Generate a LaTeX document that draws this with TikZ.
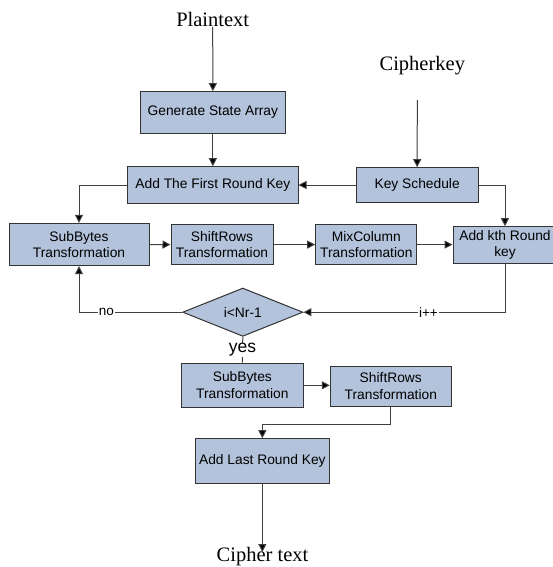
\documentclass[tikz,border=0pt]{standalone}
\usepackage{fontspec}
\setmainfont{Liberation Serif}
\setsansfont{Liberation Sans}
\usetikzlibrary{arrows.meta,shapes.geometric,calc}
\definecolor{boxfill}{HTML}{B3C3DB}
\definecolor{boxline}{HTML}{333333}
\definecolor{conn}{HTML}{404040}
\tikzset{
  procbox/.style={draw=boxline, fill=boxfill, line width=1pt, rectangle, align=center,
    inner sep=1pt, font=\sffamily\fontsize{13.8}{16.8}\selectfont},
  decbox/.style={draw=boxline, fill=boxfill, line width=1pt, diamond, aspect=2.5,
    inner sep=0pt, minimum width=120.3pt, minimum height=48.3pt,
    font=\sffamily\fontsize{13.8}{16.5}\selectfont},
  bigtext/.style={font=\rmfamily\fontsize{20.5}{24}\selectfont, inner sep=0pt},
  arr/.style={draw=conn, line width=1pt, -{Triangle[length=8pt,width=8pt,fill=black]}},
  conline/.style={draw=conn, line width=1pt},
  lab/.style={fill=white, inner sep=1pt, font=\sffamily\fontsize{13.5}{16}\selectfont},
}
\begin{document}
\begin{tikzpicture}[x=1pt,y=-1pt]
\useasboundingbox (0,0) rectangle (553,567);
% labels
\node[bigtext] (ptxt) at (212.7,19) {Plaintext};
\node[bigtext] (ckey) at (422.3,66) {Cipherkey};
\node[bigtext] (ctext) at (262.5,557) {Cipher text};
\coordinate (ckstart) at (417.3,100);
\coordinate (ptstart) at (212.7,27);
\coordinate (ctip) at (262.35,552);
% boxes
\node[procbox, minimum width=145.7pt, minimum height=41.6pt] (gen) at (212.85,112.5) {Generate State Array};
\node[procbox, minimum width=170.3pt, minimum height=36.6pt] (add1) at (212.85,185) {Add The First Round Key};
\node[procbox, minimum width=121.7pt, minimum height=34.6pt] (ks) at (417.15,185) {Key Schedule};
\node[procbox, minimum width=140pt, minimum height=42.4pt] (sb) at (79,244.5) {SubBytes\\Transformation};
\node[procbox, minimum width=102pt, minimum height=40.7pt] (sr) at (222,244.6) {ShiftRows\\Transformation};
\node[procbox, minimum width=101.3pt, minimum height=40.7pt] (mc) at (366.3,244.6) {MixColumn\\Transformation};
\node[procbox, minimum width=104pt, minimum height=36.6pt] (ak) at (505,245) {Add kth Round\\key};
\node[decbox] (dec) at (242.8,312.2) {i<Nr-1};
\node[procbox, minimum width=121.3pt, minimum height=44.7pt] (sb2) at (242.35,385.35) {SubBytes\\Transformation};
\node[procbox, minimum width=121pt, minimum height=40pt] (sr2) at (390.8,386) {ShiftRows\\Transformation};
\node[procbox, minimum width=134.7pt, minimum height=45pt] (al) at (262.35,461.2) {Add Last Round Key};
% connectors
\draw[arr] (ptstart) -- (gen.north);
\draw[arr] (ckstart) -- (ks.north);
\draw[arr] (gen.south) -- (add1.north);
\draw[arr] (ks.west) -- (add1.east);
\draw[arr] (add1.west) -| (sb.north);
\draw[arr] (ks.east) -| (ak.north);
\draw[arr] (sb.east) -- (sr.west);
\draw[arr] (sr.east) -- (mc.west);
\draw[arr] (mc.east) -- (ak.west |- mc.east);
\draw[arr] (ak.south) |- node[lab, pos=0.69] {i++} (dec.east);
\draw[arr] (dec.west) -| node[lab, pos=0.367] {no} (sb.south);
\draw[conline] (dec.south) -- node[lab, font=\sffamily\fontsize{17.5}{20}\selectfont, inner sep=0.5pt] {yes} (sb2.north);
\draw[arr] (sb2.east |- 0,385.3) -- (sr2.west |- 0,385.3);
\draw[arr] (sr2.south) -- ++(0,17.7) -| (al.north);
\draw[arr] (al.south) -- (ctip);
\end{tikzpicture}
\end{document}
